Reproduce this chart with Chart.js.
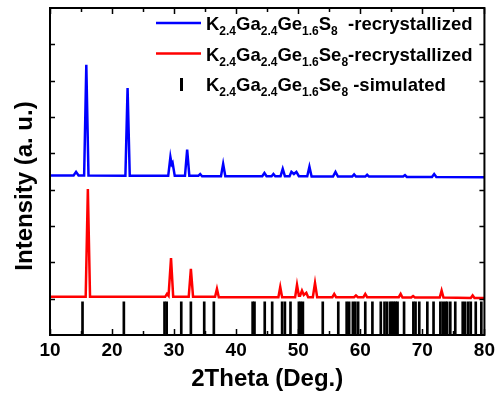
<!DOCTYPE html>
<html>
<head>
<meta charset="utf-8">
<script src="https://cdn.jsdelivr.net/npm/chart.js@4.4.0/dist/chart.umd.min.js"></script>
<style>
  html, body { margin: 0; padding: 0; background: #fff; }
  #wrap { width: 499px; height: 396px; }
</style>
</head>
<body>
<div id="wrap"><canvas id="xrd"></canvas></div>
<script>
const FONT = '"Liberation Sans", Arial, Helvetica, sans-serif';

// 2theta ticks
const xTicks = [10, 20, 30, 40, 50, 60, 70, 80];

// K2.4Ga2.4Ge1.6S8 recrystallized (offset upwards)
const blueTheta = [10, 13.8, 14.2, 14.6, 15.5, 15.85, 16.2, 22.15, 22.5, 22.85, 29.05, 29.4, 29.6, 29.75, 30.1,
  31.75, 32.1, 32.45, 33.9, 34.2, 34.5, 37.55, 37.9, 38.25, 44.2, 44.55, 44.9, 45.7, 46.0, 46.3,
  47.15, 47.5, 47.85, 48.6, 48.9, 49.3, 49.7, 50.1, 51.45, 51.8, 52.15, 55.6, 56.0, 56.4,
  58.7, 59.0, 59.3, 60.8, 61.1, 61.4, 66.9, 67.2, 67.5, 71.55, 71.9, 72.25, 80];
const blueCounts = [439, 439, 449, 439, 439, 744, 439, 438, 680, 438, 438, 490, 470, 474, 438,
  438, 510, 438, 438, 443, 437, 437, 471, 437, 437, 446, 437, 437, 443, 437,
  437, 457, 437, 437, 449, 443, 449, 437, 437, 463, 436, 436, 449, 436,
  436, 442, 436, 436, 441, 436, 436, 440, 435, 435, 443, 435, 434];

// K2.4Ga2.4Ge1.6Se8 recrystallized
const redTheta = [10, 15.75, 16.1, 16.45, 28.55, 28.85, 29.1, 29.5, 29.85, 32.35, 32.7, 33.05, 36.6, 36.9, 37.2,
  46.8, 47.1, 47.4, 49.5, 49.8, 50.1, 50.3, 50.6, 50.9, 51.3, 51.6, 52.35, 52.7, 53.05,
  55.5, 55.8, 56.1, 59.0, 59.3, 59.6, 60.5, 60.8, 61.1, 66.2, 66.5, 66.8, 68.2, 68.5, 68.8,
  72.8, 73.1, 73.4, 77.8, 78.1, 78.4, 80];
const redCounts = [105, 105, 402, 105, 105, 113, 108, 212, 105, 105, 182, 105, 105, 127, 104,
  104, 132, 104, 104, 138, 108, 108, 122, 110, 116, 104, 104, 143, 104,
  104, 113, 104, 104, 109, 104, 104, 113, 104, 104, 113, 103, 103, 107, 103,
  103, 122, 103, 102, 109, 102, 102];

// K2.4Ga2.4Ge1.6Se8 simulated reflections
const stickTheta = [15.24, 21.9, 28.45, 28.8, 31.15, 32.7, 34.85, 36.4, 42.65, 42.95, 44.6, 45.8, 47.4, 47.85,
  48.75, 50.1, 50.4, 50.75, 53.95, 56.45, 57.8, 58.2, 58.8, 59.2, 59.65, 60.8, 61.95, 63.3, 63.9,
  64.3, 64.8, 65.1, 65.4, 65.7, 66.0, 67.05, 68.55, 68.9, 69.5, 70.8, 71.8, 72.9, 73.3, 73.7, 74.0,
  74.5, 75.3, 76.5, 76.9, 77.4, 77.8, 78.6, 79.5];
const stickHeight = 91;

const legendRows = [
  [['K'], ['2.4', 1], ['Ga'], ['2.4', 1], ['Ge'], ['1.6', 1], ['S'], ['8', 1], ['  -recrystallized']],
  [['K'], ['2.4', 1], ['Ga'], ['2.4', 1], ['Ge'], ['1.6', 1], ['Se'], ['8', 1], ['-recrystallized']],
  [['K'], ['2.4', 1], ['Ga'], ['2.4', 1], ['Ge'], ['1.6', 1], ['Se'], ['8', 1], [' -simulated']]
];
const legendMarks = ['#0000ff', '#ff0000', 'stick'];

const pts = (xs, ys) => xs.map((t, i) => ({ x: t, y: ys[i] }));

const framePlugin = {
  id: 'frame',
  afterDraw(chart) {
    const { ctx, chartArea: a, scales: { x, y } } = chart;
    ctx.save();
    ctx.strokeStyle = '#000';
    ctx.lineWidth = 2;
    ctx.strokeRect(a.left, a.top, a.right - a.left, a.bottom - a.top);
    ctx.lineWidth = 1.5;
    ctx.beginPath();
    for (let v = 10; v <= 80; v += 5) {
      const px = Math.round(x.getPixelForValue(v)) + 0.5;
      const len = v % 10 === 0 ? 6 : 4;
      ctx.moveTo(px, a.bottom); ctx.lineTo(px, a.bottom - len);
      ctx.moveTo(px, a.top); ctx.lineTo(px, a.top + len);
    }
    for (let v = 100; v < 900; v += 100) {
      const py = Math.round(y.getPixelForValue(v)) + 0.5;
      ctx.moveTo(a.left, py); ctx.lineTo(a.left + 5, py);
      ctx.moveTo(a.right, py); ctx.lineTo(a.right - 5, py);
    }
    ctx.stroke();

    // y title
    ctx.fillStyle = '#000';
    ctx.font = 'bold 24px ' + FONT;
    ctx.textAlign = 'center';
    ctx.textBaseline = 'middle';
    ctx.translate(25, 186);
    ctx.rotate(-Math.PI / 2);
    ctx.fillText('Intensity (a. u.)', 0, 0);
    ctx.restore();

    // legend with subscripts
    ctx.save();
    ctx.textAlign = 'left';
    ctx.textBaseline = 'alphabetic';
    ctx.fillStyle = '#000';
    legendRows.forEach((row, i) => {
      const base = 30 + i * 30.5;
      const mark = legendMarks[i];
      if (mark === 'stick') {
        ctx.fillRect(180, base - 13, 3, 13);
      } else {
        ctx.strokeStyle = mark;
        ctx.lineWidth = 2.5;
        ctx.beginPath();
        ctx.moveTo(156, base - 7);
        ctx.lineTo(201, base - 7);
        ctx.stroke();
      }
      let cx = 206;
      row.forEach(([txt, sub]) => {
        ctx.font = (sub ? 'bold 12px ' : 'bold 18.5px ') + FONT;
        ctx.fillText(txt, cx, sub ? base + 5 : base);
        cx += ctx.measureText(txt).width;
      });
    });
    ctx.restore();
  }
};

new Chart(document.getElementById('xrd'), {
  type: 'line',
  data: {
    datasets: [
      {
        label: 'K2.4Ga2.4Ge1.6S8 -recrystallized',
        data: pts(blueTheta, blueCounts),
        borderColor: '#0000ff',
        borderWidth: 2.5,
        pointRadius: 0,
        tension: 0
      },
      {
        label: 'K2.4Ga2.4Ge1.6Se8-recrystallized',
        data: pts(redTheta, redCounts),
        borderColor: '#ff0000',
        borderWidth: 2.5,
        pointRadius: 0,
        tension: 0
      },
      {
        type: 'bar',
        label: 'K2.4Ga2.4Ge1.6Se8 -simulated',
        data: stickTheta.map(t => ({ x: t, y: [0, stickHeight] })),
        backgroundColor: '#000',
        barThickness: 2,
        grouped: false
      }
    ]
  },
  options: {
    responsive: true,
    maintainAspectRatio: false,
    animation: false,
    layout: { padding: { top: 8, right: 12, left: 0, bottom: 0 } },
    plugins: {
      legend: { display: false },
      tooltip: { enabled: false }
    },
    scales: {
      x: {
        type: 'linear',
        min: 10,
        max: 80,
        offset: false,
        grid: { display: false, drawTicks: false },
        border: { display: false },
        afterBuildTicks: s => { s.ticks = xTicks.map(v => ({ value: v })); },
        afterFit: s => { s.height = 61; },
        ticks: {
          padding: 4,
          color: '#000',
          maxRotation: 0,
          font: { family: FONT, size: 19, weight: 'bold' }
        },
        title: {
          display: true,
          text: '2Theta (Deg.)',
          color: '#000',
          padding: { top: 0, bottom: 2 },
          font: { family: FONT, size: 24, weight: 'bold', lineHeight: 1.2 }
        }
      },
      y: {
        min: 0,
        max: 900,
        grid: { display: false, drawTicks: false },
        border: { display: false },
        ticks: { display: false },
        afterFit: s => { s.width = 50; }
      }
    }
  },
  plugins: [framePlugin]
});
</script>
</body>
</html>
